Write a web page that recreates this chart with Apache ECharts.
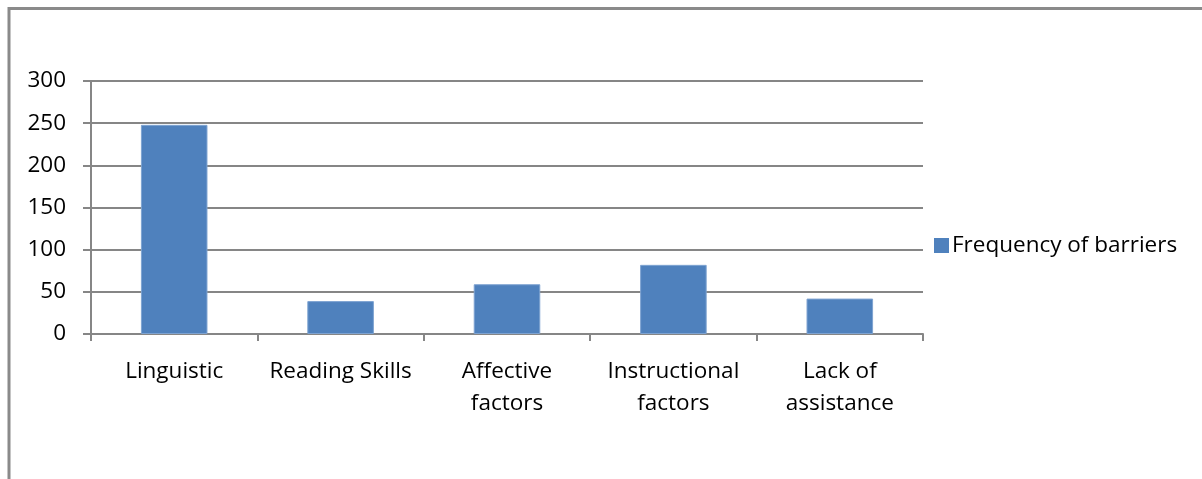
<!DOCTYPE html>
<html>
<head>
<meta charset="utf-8">
<script src="https://cdn.jsdelivr.net/npm/echarts@6/dist/echarts.min.js"></script>
<style>html,body{margin:0;padding:0;background:#fff;}#c{width:1202px;height:479px;}</style>
</head>
<body>
<div id="c"></div>
<script>
const categories = ['Linguistic', 'Reading Skills', 'Affective\nfactors', 'Instructional\nfactors', 'Lack of\nassistance'];
const seriesName = 'Frequency of barriers';
const values = [248, 39, 59, 82, 42];
const yTicks = [0, 50, 100, 150, 200, 250, 300];

const chart = echarts.init(document.getElementById('c'), null, {renderer: 'canvas'});
const font = '"Open Sans", "Liberation Sans", sans-serif';
chart.setOption({
  animation: false,
  backgroundColor: '#fff',
  graphic: [{
    type: 'rect',
    shape: {x: 9, y: 8.5, width: 1300, height: 600},
    style: {fill: 'none', stroke: '#8a8a8a', lineWidth: 3},
    silent: true
  }],
  grid: {left: 91, right: 279, top: 81, bottom: 145, containLabel: false},
  legend: {
    data: [seriesName],
    orient: 'vertical',
    left: 929, top: 229,
    itemWidth: 15, itemHeight: 15, itemGap: 8,
    icon: 'rect',
    itemStyle: {borderWidth: 0},
    textStyle: {fontFamily: font, fontSize: 22.5, color: '#000', padding: [0, 0, 0, -2]}
  },
  xAxis: {
    type: 'category',
    data: categories,
    axisLine: {lineStyle: {color: '#868686', width: 2}},
    axisTick: {show: true, length: 7, lineStyle: {color: '#868686', width: 2}, alignWithLabel: false},
    axisLabel: {fontFamily: font, fontSize: 22.5, color: '#000', margin: 22, lineHeight: 32, interval: 0}
  },
  yAxis: {
    type: 'value',
    min: yTicks[0], max: yTicks[yTicks.length - 1], interval: 50,
    axisLine: {show: true, lineStyle: {color: '#868686', width: 2}},
    axisTick: {show: true, length: 8, lineStyle: {color: '#868686', width: 2}},
    splitLine: {show: true, lineStyle: {color: '#868686', width: 2}},
    axisLabel: {fontFamily: font, fontSize: 22.5, color: '#000', margin: 25}
  },
  series: [{
    name: seriesName,
    type: 'bar',
    data: values,
    barWidth: '40%',
    itemStyle: {color: '#4f81bd', borderColor: '#7ea3d1', borderWidth: 1}
  }]
});
</script>
</body>
</html>
